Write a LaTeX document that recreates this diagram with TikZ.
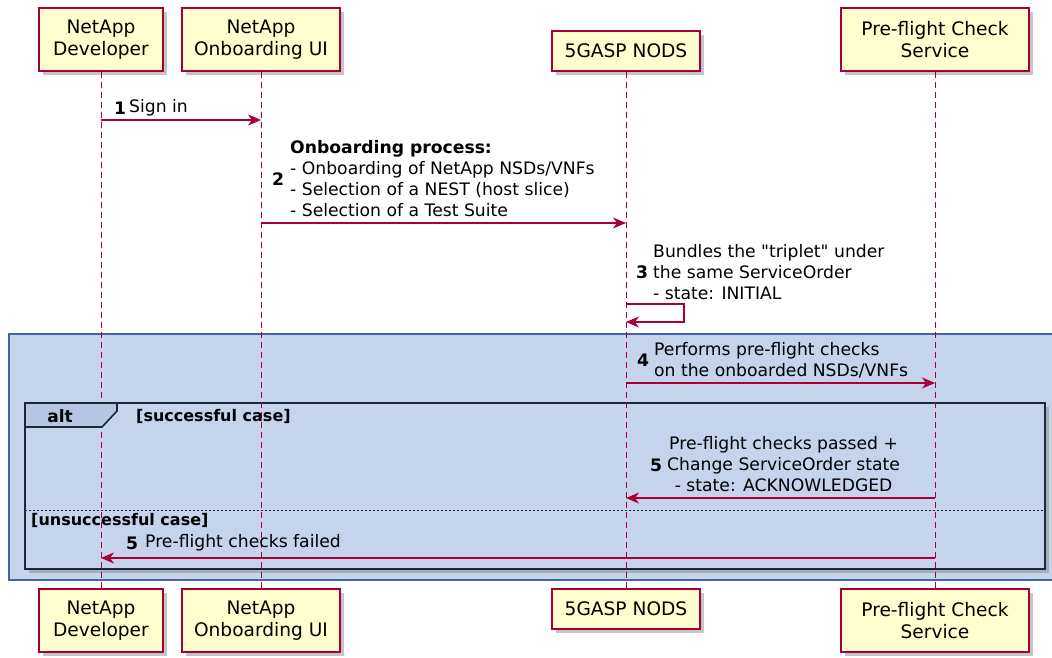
\documentclass[tikz,border=0pt]{standalone}
\usepackage{fontspec}
\setmainfont{DejaVu Sans}
\newfontfamily\plainq{DejaVu Sans}
\usetikzlibrary{arrows.meta,shadows}
\definecolor{boxfill}{HTML}{FEFECE}
\definecolor{boxline}{HTML}{A80036}
\definecolor{grpfill}{HTML}{C5D3EB}
\definecolor{grpline}{HTML}{4563A6}
\definecolor{altline}{HTML}{1B2637}
\definecolor{tabfill}{HTML}{B7C6E0}
\begin{document}
\begin{tikzpicture}[x=1pt,y=-1pt,
 part/.style={draw=boxline,fill=boxfill,line width=1.5pt,align=center,inner sep=0pt,
   font=\fontsize{18.6}{21.5}\selectfont,
   drop shadow={shadow xshift=4pt,shadow yshift=-4pt,opacity=0.45}},
 life/.style={draw=boxline,line width=1pt,dash pattern=on 6pt off 4pt},
 msg/.style={draw=boxline,line width=1.2pt,-{Stealth[length=13pt,width=11pt,inset=4pt]}},
 lbl/.style={inner sep=0pt,anchor=west,align=left,font=\fontsize{17.2}{21}\selectfont},
 num/.style={inner sep=0pt,anchor=west,font=\bfseries\fontsize{17.2}{21}\selectfont},
 guard/.style={inner sep=0pt,anchor=west,font=\bfseries\fontsize{16}{19}\selectfont}]
\clip (0,0) rectangle (1052,657);
\fill[white] (0,0) rectangle (1052,657);

% group background
\draw[draw=grpline,fill=grpfill,line width=1.4pt] (9,334) rectangle (1064,580);

% participants
\node[part,minimum width=124pt,minimum height=63pt] (devT) at (101,39.5) {NetApp\\Developer};
\node[part,minimum width=158pt,minimum height=63pt] (uiT) at (261,39.5) {NetApp\\Onboarding UI};
\node[part,minimum width=148pt,minimum height=40pt] (nodsT) at (626,51) {5GASP NODS};
\node[part,minimum width=188pt,minimum height=63pt] (pfT) at (935,39.5) {Pre-flight Check\\Service};
\node[part,minimum width=124pt,minimum height=63pt] (devB) at (101,620.5) {NetApp\\Developer};
\node[part,minimum width=158pt,minimum height=63pt] (uiB) at (261,620.5) {NetApp\\Onboarding UI};
\node[part,minimum width=148pt,minimum height=40pt] (nodsB) at (626,609) {5GASP NODS};
\node[part,minimum width=188pt,minimum height=63pt] (pfB) at (935,620.5) {Pre-flight Check\\Service};

% alt frame
\draw[draw=altline,fill=grpfill,line width=2.2pt,
  drop shadow={shadow xshift=4pt,shadow yshift=-4pt,opacity=0.45}] (25,403) rectangle (1045,569);
\draw[altline,line width=1pt,dash pattern=on 2pt off 2pt] (25,510) -- (1045,510);

% lifelines
\draw[life] (devT.south) -- (devB.north);
\draw[life] (uiT.south) -- (uiB.north);
\draw[life] (nodsT.south) -- (nodsB.north);
\draw[life] (pfT.south) -- (pfB.north);

% alt tab
\draw[draw=altline,fill=tabfill,line width=1.6pt] (25,403) -- (117,403) -- (117,411) -- (102,427) -- (25,427) -- cycle;
\node[inner sep=0pt,font=\bfseries\fontsize{17}{20}\selectfont] (altlbl) at (60,416) {alt};
\node[guard] (g1) at (136,416) {[successful case]};
\node[guard] (g2) at (31,520) {[unsuccessful case]};

% messages
\draw[msg] (devT |- 0,120) -- (uiT |- 0,120);
\node[num] (n1) at (114,108) {1};
\node[lbl] (t1) at (129,108) {Sign in};

\draw[msg] (uiT |- 0,223) -- (nodsT |- 0,223);
\node[num] (n2) at (272,179) {2};
\node[lbl] (t2) at (290,178.5) {\textbf{Onboarding process:}\\- Onboarding of NetApp NSDs/VNFs\\- Selection of a NEST (host slice)\\- Selection of a Test Suite};

\coordinate (selfR) at (684,304);
\draw[msg] (nodsT |- 0,304) -- (selfR) |- (nodsT |- 0,322);
\node[num] (n3) at (636,272) {3};
\node[lbl] (t3) at (653,272) {Bundles the {\plainq"}triplet{\plainq"} under\\the same ServiceOrder\\- state: INITIAL};

\draw[msg] (nodsT |- 0,383) -- (pfT |- 0,383);
\node[num] (n4) at (637,360.5) {4};
\node[lbl] (t4) at (654,360.5) {Performs pre-flight checks\\on the onboarded NSDs/VNFs};

\draw[msg] (pfT |- 0,498) -- (nodsT |- 0,498);
\node[num] (n5) at (650,465) {5};
\node[lbl,align=center] (t5) at (667,464.5) {Pre-flight checks passed +\\Change ServiceOrder state\\- state: ACKNOWLEDGED};

\draw[msg] (pfT |- 0,558) -- (devT |- 0,558);
\node[num] (n6) at (126,543) {5};
\node[lbl] (t6) at (145,543) {Pre-flight checks failed};
\end{tikzpicture}
\end{document}
